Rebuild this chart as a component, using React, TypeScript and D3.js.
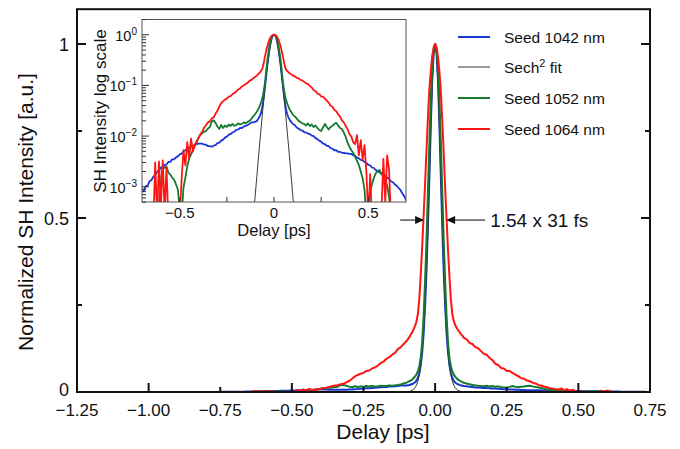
import React from 'react';
import * as d3 from 'd3';

const W = 680;
const H = 449;
const FONT = '"Liberation Sans", Arial, Helvetica, sans-serif';

// Delay grid [ps]: 10 fs steps in the wings, 5 fs steps around the peak
const delays: number[] = [
  ...d3.range(-75, -10).map((i) => i / 100),
  ...d3.range(-20, 21).map((i) => i / 200),
  ...d3.range(11, 76).map((i) => i / 100),
];

// log10 of the normalized SH intensity, one value per delay
const blueLog = [
  -3.38, -3.28, -3.31, -3.18, -3.17, -3.08, -3.08, -2.99, -2.98, -2.89, -2.87, -2.80, -2.77, -2.70, -2.68, -2.62, -2.63, -2.57, -2.56, -2.51,
  -2.51, -2.46, -2.46, -2.42, -2.40, -2.36, -2.35, -2.30, -2.28, -2.25, -2.23, -2.20, -2.19, -2.17, -2.16, -2.15, -2.15, -2.15, -2.17, -2.17,
  -2.20, -2.20, -2.21, -2.19, -2.18, -2.14, -2.13, -2.09, -2.07, -2.03, -2.01, -1.97, -1.96, -1.93, -1.91, -1.88, -1.87, -1.84, -1.84, -1.81,
  -1.80, -1.78, -1.76, -1.73, -1.73,
  -1.721, -1.710, -1.699, -1.668, -1.638, -1.602, -1.553, -1.481, -1.387, -1.260, -1.108, -0.939, -0.770, -0.602, -0.456, -0.319, -0.208, -0.114, -0.046, -0.011, 0,
  -0.011, -0.047, -0.116, -0.210, -0.322, -0.460, -0.607, -0.776, -0.945, -1.115, -1.268, -1.395, -1.490, -1.565, -1.615, -1.655, -1.690, -1.715, -1.740, -1.760,
  -1.78, -1.83, -1.85, -1.88, -1.89, -1.92, -1.93, -1.95, -1.96, -1.99, -2.00, -2.04, -2.06, -2.09, -2.11, -2.15, -2.16, -2.19, -2.20, -2.24,
  -2.25, -2.28, -2.28, -2.31, -2.31, -2.33, -2.33, -2.34, -2.34, -2.35, -2.35, -2.38, -2.39, -2.42, -2.44, -2.47, -2.48, -2.51, -2.53, -2.57,
  -2.58, -2.62, -2.63, -2.67, -2.69, -2.72, -2.73, -2.77, -2.79, -2.82, -2.84, -2.89, -2.91, -2.95, -2.98, -3.02, -3.06, -3.13, -3.18, -3.26,
  -3.30, -3.36, -3.40, -3.46, -3.50,
];

const greenLog = [
  -3.8, -3.9, -3.7, -4.0, -3.8, -3.9, -3.7, -3.8, -4.0, -3.7, -3.9, -3.8, -3.6, -3.7,
  -3.4, -2.90, -2.58, -2.63, -2.60, -2.72, -2.76, -2.82, -2.86, -2.95, -3.05, -3.45, -3.6, -3.02, -2.82, -2.60, -2.44, -2.36, -2.28, -2.20,
  -2.12, -2.04, -1.97, -1.94, -1.91, -1.90, -1.85, -1.82, -1.71, -1.69, -1.74, -1.81, -1.86, -1.78, -1.84, -1.79, -1.82, -1.77, -1.80, -1.76,
  -1.80, -1.78, -1.75, -1.77, -1.76, -1.73, -1.75, -1.72, -1.70, -1.66, -1.61,
  -1.569, -1.540, -1.509, -1.481, -1.444, -1.398, -1.347, -1.292, -1.222, -1.125, -1.000, -0.839, -0.658, -0.495, -0.357, -0.237, -0.143, -0.071, -0.027, -0.007, 0,
  -0.007, -0.028, -0.073, -0.146, -0.240, -0.360, -0.500, -0.662, -0.845, -1.008, -1.130, -1.230, -1.300, -1.355, -1.405, -1.450, -1.488, -1.515, -1.545, -1.575,
  -1.61, -1.65, -1.70, -1.72, -1.75, -1.76, -1.79, -1.75, -1.80, -1.77, -1.82, -1.79, -1.84, -1.88, -1.90, -1.83, -1.76, -1.82, -1.87, -1.82,
  -1.80, -1.76, -1.74, -1.79, -1.84, -1.86, -1.93, -2.01, -2.13, -2.21, -2.28, -2.33, -2.41, -2.49, -2.57, -2.70, -2.83, -3.06, -3.6, -3.5,
  -3.10, -2.94, -2.82, -2.73, -2.69, -2.67, -2.75, -2.79, -2.88, -2.97, -3.20, -3.6,
  -3.8, -3.7, -3.9, -3.8, -4.0, -3.7, -3.9, -3.8, -3.7, -3.9, -3.8, -4.0, -3.8,
];

const redLog = [
  -3.9, -3.7, -4.0, -3.8, -3.9, -3.6, -3.8, -3.5, -3.9, -3.6, -3.8, -3.7, -2.52, -3.6, -2.50, -3.4, -2.48, -3.5, -2.62, -3.7,
  -3.9, -3.6, -3.8, -3.7, -3.5, -3.6, -2.85, -2.28, -2.58, -2.12, -2.45, -2.05, -2.30, -2.18, -2.10, -2.03, -1.96, -1.91, -1.83, -1.78,
  -1.73, -1.71, -1.65, -1.63, -1.56, -1.50, -1.42, -1.35, -1.31, -1.28, -1.26, -1.22, -1.21, -1.17, -1.15, -1.12, -1.08, -1.06, -1.02, -1.00,
  -0.97, -0.95, -0.91, -0.89, -0.86,
  -0.836, -0.818, -0.803, -0.781, -0.766, -0.743, -0.722, -0.692, -0.648, -0.569, -0.469, -0.377, -0.292, -0.222, -0.155, -0.102, -0.060, -0.034, -0.015, -0.004, 0,
  -0.004, -0.016, -0.036, -0.064, -0.108, -0.163, -0.232, -0.303, -0.389, -0.480, -0.575, -0.650, -0.690, -0.716, -0.733, -0.750, -0.763, -0.779, -0.790, -0.806,
  -0.82, -0.85, -0.86, -0.89, -0.90, -0.93, -0.96, -0.97, -1.01, -1.04, -1.09, -1.11, -1.16, -1.17, -1.22, -1.22, -1.26, -1.30, -1.34, -1.40,
  -1.42, -1.48, -1.51, -1.57, -1.61, -1.69, -1.73, -1.80, -1.86, -1.96, -2.01, -2.12, -2.16, -1.98, -2.38, -2.08, -2.46, -2.18, -2.72, -3.6,
  -2.75, -3.7, -3.9, -3.6, -3.8, -3.7, -3.5, -2.45, -3.3, -2.38, -2.65, -3.6, -3.8, -3.7, -3.9, -3.6, -3.8, -3.9, -3.7, -3.8,
  -3.6, -3.9, -3.7, -3.8, -3.6,
];

// Sech² autocorrelation fit (31 fs pulse, 1.54 deconvolution factor): one half, symmetric in delay
const fitDelayHalf = d3.range(0, 23).map((i) => i * 0.005);
const fitHalf = [
  1, 0.968, 0.88, 0.753, 0.61, 0.47, 0.348, 0.248, 0.171, 0.1155, 0.0762, 0.0494, 0.0316, 0.01995, 0.01247, 0.00773,
  0.00475, 0.00291, 0.00177, 0.00107, 0.000645, 0.000387, 0.000232,
];

const xTickValues = [-1.25, -1.0, -0.75, -0.5, -0.25, 0, 0.25, 0.5, 0.75];
const xTickLabels = ['\u22121.25', '\u22121.00', '\u22120.75', '\u22120.50', '\u22120.25', '0.00', '0.25', '0.50', '0.75'];
const xMajorTicks = [-1.0, -0.5, 0, 0.5];
const xMinorTicks = [-0.75, -0.25, 0.25];
const yTickValues = [0, 0.5, 1];
const yTickLabels = ['0', '0.5', '1'];
const yMinorTicks = [0.25, 0.75];

const insetXTicks = [-0.5, -0.25, 0, 0.25, 0.5];
const insetXLabelValues = [-0.5, 0, 0.5];
const insetXLabels = ['\u22120.5', '0', '0.5'];
const insetDecades = [0, -1, -2, -3];
const insetDecadeLabels = ['0', '\u22121', '\u22122', '\u22123'];

const fwhmLabel = '1.54 x 31 fs';
const fwhmArrowLevel = 0.494;

type Series = { name: string; color: string; width: number; pts: [number, number][] };

const toPts = (logs: number[]): [number, number][] =>
  delays.slice(0, logs.length).map((t, i) => [t, Math.pow(10, logs[i])]);

const fitPts: [number, number][] = [
  ...fitDelayHalf.slice(1).map((t, i) => [-t, fitHalf[i + 1]] as [number, number]).reverse(),
  ...fitDelayHalf.map((t, i) => [t, fitHalf[i]] as [number, number]),
];

const BLUE = '#1836d6';
const GREEN = '#147a30';
const RED = '#ff1414';
const FIT = '#3a3a3a';

const seriesList: Series[] = [
  { name: 'Seed 1042 nm', color: BLUE, width: 2, pts: toPts(blueLog) },
  { name: 'Sech2 fit', color: FIT, width: 1, pts: fitPts },
  { name: 'Seed 1052 nm', color: GREEN, width: 2, pts: toPts(greenLog) },
  { name: 'Seed 1064 nm', color: RED, width: 2, pts: toPts(redLog) },
];

export default function App() {
  const x = d3.scaleLinear().domain([-1.25, 0.75]).range([77, 650]);
  const y = d3.scaleLinear().domain([0, 1.1]).range([392, 9.2]);
  const ix = d3.scaleLinear().domain([-0.7, 0.7]).range([142, 406]);
  const iy = d3.scaleLog().domain([5e-4, 2]).range([202, 19.5]);

  const mainLine = d3.line<[number, number]>().x((d) => x(d[0])).y((d) => y(d[1]));
  const insetLine = d3
    .line<[number, number]>()
    .x((d) => ix(d[0]))
    .y((d) => Math.min(iy(Math.max(d[1], 1e-6)), 260));

  const [x0, x1] = x.range();
  const [y0, y1] = y.range();
  const [ix0, ix1] = ix.range();
  const [iy0, iy1] = iy.range();

  const insetMinor: number[] = [];
  [-4, -3, -2, -1, 0].forEach((e) => {
    for (let k = 2; k <= 9; k++) {
      const v = k * Math.pow(10, e);
      if (v >= 5e-4 && v <= 2) insetMinor.push(v);
    }
  });

  const legendRows = [
    { s: seriesList[0], yy: 37 },
    { s: seriesList[1], yy: 67 },
    { s: seriesList[2], yy: 98 },
    { s: seriesList[3], yy: 129 },
  ];

  const ay = y(fwhmArrowLevel);

  return (
    <svg
      width={W}
      height={H}
      viewBox={`0 0 ${W} ${H}`}
      style={{ position: 'absolute', left: 0, top: 0, background: '#fff' }}
      fontFamily={FONT}
    >
      <rect x={0} y={0} width={W} height={H} fill="#fff" />
      <defs>
        <clipPath id="insetClip">
          <rect x={ix0} y={iy1} width={ix1 - ix0} height={iy0 - iy1} />
        </clipPath>
        <clipPath id="mainClip">
          <rect x={x0} y={y1} width={x1 - x0} height={y0 - y1} />
        </clipPath>
      </defs>

      {/* main curves */}
      <g clipPath="url(#mainClip)" fill="none" strokeLinejoin="round">
        {seriesList.map((s) => (
          <path key={s.name} d={mainLine(s.pts) || ''} stroke={s.color} strokeWidth={s.width} />
        ))}
      </g>

      {/* main frame and ticks */}
      <rect x={x0} y={y1} width={x1 - x0} height={y0 - y1} fill="none" stroke="#111" strokeWidth={2} />
      {xMajorTicks.map((v) => (
        <line key={'xM' + v} x1={x(v)} x2={x(v)} y1={y0} y2={y0 - 9} stroke="#111" strokeWidth={2} />
      ))}
      {xMinorTicks.map((v) => (
        <line key={'xm' + v} x1={x(v)} x2={x(v)} y1={y0} y2={y0 - 5} stroke="#111" strokeWidth={2} />
      ))}
      {[0.5, 1].map((v) => (
        <g key={'yM' + v}>
          <line x1={x0} x2={x0 + 9} y1={y(v)} y2={y(v)} stroke="#111" strokeWidth={2} />
          <line x1={x1} x2={x1 - 9} y1={y(v)} y2={y(v)} stroke="#111" strokeWidth={2} />
        </g>
      ))}
      {yMinorTicks.map((v) => (
        <g key={'ym' + v}>
          <line x1={x0} x2={x0 + 5} y1={y(v)} y2={y(v)} stroke="#111" strokeWidth={2} />
          <line x1={x1} x2={x1 - 5} y1={y(v)} y2={y(v)} stroke="#111" strokeWidth={2} />
        </g>
      ))}
      {xTickValues.map((v, i) => (
        <text key={'xl' + v} x={x(v)} y={416} textAnchor="middle" fontSize={17} fill="#111">
          {xTickLabels[i]}
        </text>
      ))}
      {yTickValues.map((v, i) => (
        <text key={'yl' + v} x={69} y={v === 0 ? y(v) + 4 : y(v) + 6.5} textAnchor="end" fontSize={18} fill="#111">
          {yTickLabels[i]}
        </text>
      ))}
      <text x={383} y={439} textAnchor="middle" fontSize={21} fill="#111">
        Delay [ps]
      </text>
      <text
        transform={`translate(33, ${212}) rotate(-90)`}
        textAnchor="middle"
        fontSize={21}
        fill="#111"
      >
        Normalized SH Intensity [a.u.]
      </text>

      {/* FWHM annotation */}
      <line x1={x(-0.122)} x2={x(-0.066)} y1={ay} y2={ay} stroke="#555" strokeWidth={1.5} />
      <path
        d={`M${x(-0.0384)},${ay} L${x(-0.0384) - 9},${ay - 4} L${x(-0.0384) - 9},${ay + 4} Z`}
        fill="#111"
      />
      <line x1={x(0.066)} x2={x(0.1745)} y1={ay} y2={ay} stroke="#555" strokeWidth={1.5} />
      <path
        d={`M${x(0.0384)},${ay} L${x(0.0384) + 9},${ay - 4} L${x(0.0384) + 9},${ay + 4} Z`}
        fill="#111"
      />
      <text x={x(0.192)} y={ay + 7} fontSize={19} fill="#111">
        {fwhmLabel}
      </text>

      {/* legend */}
      {legendRows.map(({ s, yy }) => (
        <g key={'lg' + s.name}>
          <line x1={458} x2={490} y1={yy} y2={yy} stroke={s.color} strokeWidth={s.width} />
          <text x={504} y={yy + 5.5} fontSize={15.5} fill="#111">
            {s.name === 'Sech2 fit' ? (
              <>
                Sech
                <tspan dy={-6} fontSize={11}>
                  2
                </tspan>
                <tspan dy={6}> fit</tspan>
              </>
            ) : (
              s.name
            )}
          </text>
        </g>
      ))}

      {/* inset: log scale */}
      <rect x={ix0} y={iy1} width={ix1 - ix0} height={iy0 - iy1} fill="#fff" />
      <g clipPath="url(#insetClip)" fill="none" strokeLinejoin="round">
        {seriesList.map((s) => (
          <path
            key={'in' + s.name}
            d={insetLine(s.pts) || ''}
            stroke={s.color}
            strokeWidth={s.width === 1 ? 1 : 1.8}
          />
        ))}
      </g>
      <rect x={ix0} y={iy1} width={ix1 - ix0} height={iy0 - iy1} fill="none" stroke="#555" strokeWidth={1} />
      {insetXTicks.map((v) => (
        <line key={'ixt' + v} x1={ix(v)} x2={ix(v)} y1={iy0} y2={iy0 - 5} stroke="#333" strokeWidth={1} />
      ))}
      {insetDecades.map((e) => (
        <line
          key={'iyd' + e}
          x1={ix0}
          x2={ix0 + 7}
          y1={iy(Math.pow(10, e))}
          y2={iy(Math.pow(10, e))}
          stroke="#333"
          strokeWidth={1}
        />
      ))}
      {insetMinor.map((v) => (
        <line key={'iym' + v} x1={ix0} x2={ix0 + 4} y1={iy(v)} y2={iy(v)} stroke="#333" strokeWidth={1} />
      ))}
      {insetXLabelValues.map((v, i) => (
        <text key={'ixl' + v} x={ix(v)} y={218} textAnchor="middle" fontSize={15} fill="#111">
          {insetXLabels[i]}
        </text>
      ))}
      {insetDecades.map((e, i) => (
        <text key={'iyl' + e} x={137} y={iy(Math.pow(10, e)) + 6} textAnchor="end" fontSize={14.5} fill="#111">
          10
          <tspan dy={-6} fontSize={10}>
            {insetDecadeLabels[i]}
          </tspan>
        </text>
      ))}
      <text x={ix(0)} y={236} textAnchor="middle" fontSize={16.5} fill="#111">
        Delay [ps]
      </text>
      <text transform={`translate(105.5, 111) rotate(-90)`} textAnchor="middle" fontSize={17} fill="#111">
        SH Intensity log scale
      </text>
    </svg>
  );
}
